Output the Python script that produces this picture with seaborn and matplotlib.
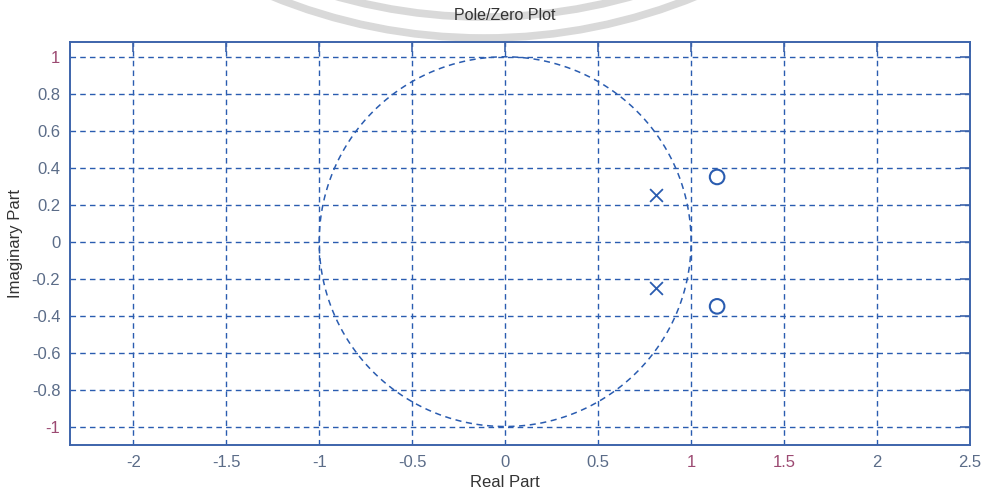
import numpy as np
import pandas as pd
import matplotlib
matplotlib.use("Agg")
import matplotlib.pyplot as plt
from matplotlib.patches import Ellipse
import seaborn as sns

# Poles and zeros of the filter (real, imaginary)
pole_re = [0.81, 0.81]
pole_im = [0.25, -0.25]
zero_re = [1.14, 1.14]
zero_im = [0.35, -0.35]

x_ticks = [-2, -1.5, -1, -0.5, 0, 0.5, 1, 1.5, 2, 2.5]
x_tick_labels = ["-2", "-1.5", "-1", "-0.5", "0", "0.5", "1", "1.5", "2", "2.5"]
y_ticks = [1, 0.8, 0.6, 0.4, 0.2, 0, -0.2, -0.4, -0.6, -0.8, -1]
y_tick_labels = ["1", "0.8", "0.6", "0.4", "0.2", "0", "-0.2", "-0.4", "-0.6", "-0.8", "-1"]

sns.set_theme(style="white")
plt.rcParams["font.family"] = ["Liberation Sans", "DejaVu Sans"]

BLUE = "#2a5cb0"
AXIS = "#3d64ab"
LABEL = "#5b6c88"
ACCENT = "#9c4a72"

W, H = 985, 495
fig = plt.figure(figsize=(W / 100, H / 100), dpi=100, facecolor="white")

# faint grey rings behind the title
for r in (561, 540):
    fig.patches.append(Ellipse((484 / W, 1018 / H), 2 * r / W, 2 * r / H,
                               transform=fig.transFigure, fill=False,
                               lw=5.5, edgecolor="#d9d9d9", zorder=-5))

ax = fig.add_axes([70 / W, (H - 445) / H, 900 / W, 403 / H])
ax.set_facecolor("none")
ax.set_zorder(1)

# unit circle
theta = np.linspace(0, 2 * np.pi, 400)
circle = pd.DataFrame({"re": np.cos(theta), "im": np.sin(theta)})
sns.lineplot(data=circle, x="re", y="im", sort=False, estimator=None, ax=ax,
             color=BLUE, lw=1.1, linestyle=(0, (4, 3)), zorder=3)

poles = pd.DataFrame({"re": pole_re, "im": pole_im})
zeros = pd.DataFrame({"re": zero_re, "im": zero_im})
sns.scatterplot(data=poles, x="re", y="im", marker="x", s=85, color=BLUE,
                linewidth=1.3, ax=ax, zorder=4)
sns.scatterplot(data=zeros, x="re", y="im", marker="o", s=110,
                facecolor="none", edgecolor=BLUE, linewidth=1.5, ax=ax, zorder=4)

ax.set_xlim(-2.34, 2.5)
ax.set_ylim(-1.1, 1.08)

ax.set_xticks(x_ticks)
ax.set_xticklabels(x_tick_labels)
ax.set_yticks(y_ticks)
ax.set_yticklabels(y_tick_labels)

ax.grid(True, color=BLUE, lw=1.0, linestyle=(0, (4, 3)))
ax.set_axisbelow(True)

for s in ax.spines.values():
    s.set_visible(True)
    s.set_color(AXIS)
    s.set_linewidth(1.4)

ax.tick_params(axis="both", direction="in", length=7, width=1.2, color=AXIS,
               labelsize=12, labelcolor=LABEL, top=True, right=True, pad=7)
for lbl in ax.get_xticklabels():
    if lbl.get_text() in ("1", "1.5"):
        lbl.set_color(ACCENT)
for lbl in ax.get_yticklabels():
    if lbl.get_text() in ("1", "-1"):
        lbl.set_color(ACCENT)

# text centred over the zero of the real axis
cx = (505 - 70) / 900
ax.set_xlabel("Real Part", fontsize=12, color="#333333", labelpad=4)
ax.xaxis.set_label_coords(cx, -0.075)
ax.set_ylabel("Imaginary Part", fontsize=12, color="#333333", labelpad=6)
ax.set_title("Pole/Zero Plot", fontsize=11.5, color="#333333", pad=16, x=cx)

fig.savefig("out.png", dpi=100, facecolor="white")
